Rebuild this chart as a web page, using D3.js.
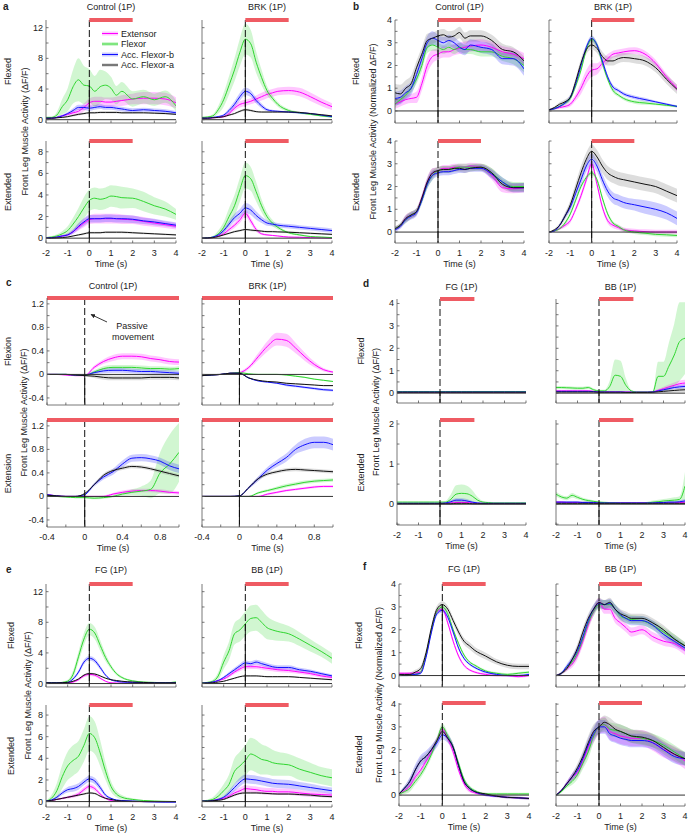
<!DOCTYPE html>
<html>
<head>
<meta charset="utf-8">
<script src="https://cdn.jsdelivr.net/npm/d3@7"></script>
<style>
  body { margin: 0; background: #fff; }
  text { font-family: "Liberation Sans", Arial, sans-serif; font-size: 9px; fill: #222; }
</style>
</head>
<body>
<svg id="chart"></svg>
<script>
// ---- data ----
// series order in every block: Extensor, Flexor, Acc. Flexor-b, Acc. Flexor-a
var seriesNames = ["Extensor", "Flexor", "Acc. Flexor-b", "Acc. Flexor-a"];
var seriesColors = ["#ff00ff", "#2fd62f", "#1010ff", "#111111"];

var tMain = [-2,-1.75,-1.5,-1.25,-1,-0.75,-0.5,-0.25,0,0.25,0.5,0.75,1,1.25,1.5,2,2.5,3,3.5,4];
var tFine = [-2,-1.75,-1.5,-1.25,-1,-0.75,-0.5,-0.25,0,0.25,0.5,0.75,1,1.25,1.5,1.75,2,2.25,2.5,2.75,3,3.25,3.5,3.75,4];
var tPassive = [-0.4,-0.3,-0.2,-0.1,0,0.1,0.2,0.3,0.4,0.5,0.6,0.7,0.8,0.9,1.0];

var xTicksTime = [-2,-1,0,1,2,3,4];
var xTicksPassive = [-0.4,0,0.4,0.8];

// a: raw dF/F
var aCtrlFlexed = [
  [0.2,0.2,0.3,0.5,0.7,0.9,1.1,1.6,2.2,2.4,2.4,2.3,2.3,2.4,2.5,2.7,2.8,2.8,2.7,2.2],
  [0.3,0.3,0.6,1.7,2.6,4.3,5.2,4.5,4.4,3.7,4.3,4.5,4.1,3.2,3.7,2.7,3.0,2.6,3.0,1.8],
  [0.2,0.2,0.3,0.5,0.8,1.2,1.6,1.6,1.5,1.6,1.7,1.6,1.6,1.5,1.4,1.2,1.3,1.2,1.1,0.9],
  [0.2,0.2,0.25,0.3,0.4,0.55,0.7,0.8,0.9,0.9,0.95,0.95,0.95,0.95,0.9,0.9,0.9,0.85,0.8,0.7]];
var aCtrlFlexedSem = [
  [0.1,0.1,0.1,0.15,0.2,0.3,0.4,0.5,0.6,0.6,0.6,0.6,0.6,0.6,0.7,0.7,0.8,0.8,0.8,0.7],
  [0.1,0.1,0.4,1.0,1.5,2.2,2.8,2.5,2.2,2.0,2.2,1.8,1.5,1.2,1.2,1.0,0.9,0.8,0.8,0.7],
  [0.05,0.05,0.1,0.15,0.2,0.3,0.35,0.35,0.35,0.3,0.3,0.3,0.3,0.3,0.3,0.3,0.25,0.25,0.25,0.25],
  [0.05,0.05,0.05,0.08,0.1,0.12,0.15,0.15,0.15,0.15,0.15,0.15,0.15,0.15,0.15,0.15,0.12,0.12,0.12,0.1]];
var aBrkFlexed = [
  [0.2,0.2,0.25,0.3,0.4,0.8,1.5,2.0,2.2,2.4,2.7,3.0,3.3,3.5,3.7,3.8,3.6,3.0,2.3,1.7],
  [0.3,0.35,0.5,1.3,2.6,4.5,6.5,8.8,10.5,9.9,7.5,5.5,3.8,2.8,2.0,1.2,0.9,0.7,0.5,0.35],
  [0.2,0.2,0.3,0.4,0.6,1.2,2.0,3.0,3.7,3.4,2.5,1.8,1.3,1.15,1.1,1.0,0.9,0.8,0.6,0.4],
  [0.2,0.2,0.25,0.3,0.4,0.6,0.8,1.1,1.3,1.2,1.05,1.0,1.0,1.0,1.0,1.0,0.95,0.8,0.65,0.5]];
var aBrkFlexedSem = [
  [0.05,0.05,0.1,0.1,0.15,0.25,0.35,0.4,0.4,0.4,0.45,0.5,0.5,0.5,0.5,0.5,0.55,0.55,0.5,0.45],
  [0.1,0.1,0.2,0.5,0.9,1.2,1.5,1.8,2.0,1.8,1.4,1.0,0.6,0.4,0.3,0.2,0.15,0.1,0.1,0.1],
  [0.05,0.05,0.05,0.1,0.15,0.3,0.4,0.5,0.5,0.45,0.4,0.3,0.2,0.15,0.1,0.1,0.1,0.1,0.08,0.08],
  [0.05,0.05,0.05,0.05,0.08,0.1,0.12,0.15,0.15,0.15,0.12,0.1,0.1,0.1,0.1,0.1,0.1,0.08,0.08,0.08]];
var aCtrlExt = [
  [0.05,0.05,0.1,0.2,0.3,0.6,1.0,1.4,1.7,1.8,1.8,1.8,1.8,1.8,1.75,1.7,1.55,1.4,1.25,1.1],
  [0.05,0.1,0.2,0.4,0.7,1.3,2.0,2.8,3.5,3.7,3.6,3.7,3.9,3.85,3.75,3.7,3.4,3.0,2.7,2.2],
  [0.05,0.05,0.1,0.2,0.3,0.6,1.1,1.5,1.8,1.8,1.8,1.85,1.85,1.8,1.8,1.75,1.6,1.5,1.35,1.2],
  [0,0,0.02,0.05,0.1,0.2,0.3,0.4,0.5,0.5,0.5,0.55,0.55,0.55,0.55,0.5,0.45,0.4,0.35,0.3]];
var aCtrlExtSem = [
  [0.02,0.03,0.05,0.08,0.12,0.2,0.3,0.4,0.4,0.45,0.45,0.45,0.45,0.45,0.45,0.4,0.4,0.35,0.3,0.3],
  [0.05,0.08,0.15,0.25,0.4,0.6,0.8,1.0,1.0,1.0,1.0,1.0,1.0,1.0,1.0,0.9,0.9,0.8,0.7,0.5],
  [0.02,0.03,0.05,0.08,0.12,0.2,0.3,0.35,0.35,0.35,0.35,0.35,0.35,0.35,0.35,0.35,0.3,0.3,0.25,0.25],
  [0.02,0.02,0.03,0.03,0.05,0.05,0.08,0.1,0.1,0.1,0.1,0.1,0.1,0.1,0.1,0.1,0.08,0.08,0.08,0.08]];
var aBrkExt = [
  [0,0,0.05,0.2,0.4,0.8,1.2,1.7,2.3,1.6,0.8,0.4,0.3,0.25,0.2,0.1,0.08,0.05,0.03,0],
  [0,0.02,0.1,0.4,1.0,2.0,3.0,4.5,5.8,5.5,4.3,3.0,2.0,1.4,1.0,0.5,0.3,0.15,0.1,0.05],
  [0,0.02,0.1,0.3,0.7,1.3,1.9,2.3,2.8,2.6,2.1,1.7,1.4,1.3,1.2,1.1,1.0,0.9,0.8,0.7],
  [0,0.02,0.05,0.15,0.3,0.45,0.6,0.7,0.8,0.75,0.7,0.65,0.6,0.6,0.58,0.55,0.5,0.45,0.4,0.35]];
var aBrkExtSem = [
  [0.02,0.02,0.05,0.1,0.15,0.2,0.25,0.3,0.35,0.3,0.2,0.1,0.08,0.06,0.05,0.05,0.04,0.04,0.03,0.03],
  [0.02,0.05,0.1,0.3,0.5,0.8,1.0,1.1,1.2,1.1,0.9,0.6,0.4,0.3,0.2,0.1,0.08,0.05,0.05,0.05],
  [0.02,0.02,0.05,0.1,0.2,0.3,0.35,0.4,0.45,0.45,0.4,0.3,0.25,0.2,0.2,0.2,0.2,0.2,0.2,0.2],
  [0.02,0.02,0.03,0.05,0.06,0.08,0.1,0.1,0.1,0.1,0.1,0.1,0.08,0.08,0.08,0.08,0.08,0.08,0.08,0.08]];

// b: normalized dF/F
var bCtrlFlexed = [
  [0.3,0.4,0.5,0.55,0.6,1.2,2.0,2.4,2.5,2.6,2.6,2.7,2.75,2.8,2.85,2.9,2.8,2.6,2.5,2.3],
  [0.3,0.5,0.7,1.0,1.4,2.0,2.8,2.9,2.8,2.7,2.8,2.7,2.8,2.7,2.7,2.6,2.6,2.4,2.3,2.0],
  [0.55,0.6,0.8,1.0,1.6,2.3,3.0,3.2,3.1,3.0,3.1,3.0,2.8,2.7,2.9,2.8,2.7,2.3,2.3,1.85],
  [0.8,0.75,1.0,1.2,1.9,2.5,3.1,3.2,3.3,3.35,3.25,3.3,3.45,3.2,3.3,3.3,3.1,2.7,2.6,2.2]];
var bCtrlFlexedSem = [
  [0.2,0.2,0.2,0.2,0.25,0.3,0.35,0.3,0.25,0.25,0.25,0.25,0.25,0.25,0.25,0.25,0.25,0.25,0.25,0.25],
  [0.15,0.15,0.15,0.2,0.2,0.25,0.25,0.25,0.2,0.2,0.2,0.2,0.2,0.2,0.2,0.2,0.2,0.2,0.25,0.3],
  [0.3,0.3,0.3,0.3,0.3,0.3,0.3,0.3,0.25,0.25,0.25,0.25,0.25,0.25,0.25,0.25,0.25,0.25,0.3,0.3],
  [0.4,0.4,0.35,0.35,0.3,0.3,0.3,0.25,0.25,0.25,0.25,0.25,0.25,0.25,0.25,0.25,0.25,0.25,0.2,0.2]];
var bBrkFlexed = [
  [0.05,0.1,0.15,0.2,0.3,0.6,1.0,1.5,1.8,1.85,2.1,2.3,2.5,2.55,2.6,2.65,2.5,2.1,1.5,1.0],
  [0.05,0.1,0.2,0.35,0.55,1.1,1.8,2.7,3.15,2.9,2.1,1.4,0.9,0.7,0.55,0.4,0.35,0.3,0.25,0.2],
  [0.05,0.1,0.2,0.35,0.6,1.2,2.0,2.8,3.2,2.9,2.2,1.5,1.05,0.9,0.75,0.6,0.5,0.4,0.3,0.2],
  [0.05,0.15,0.3,0.4,0.6,1.3,2.1,2.7,2.9,2.75,2.4,2.2,2.2,2.3,2.35,2.3,2.2,1.9,1.4,0.95]];
var bBrkFlexedSem = [
  [0.03,0.05,0.05,0.08,0.1,0.15,0.25,0.3,0.3,0.25,0.2,0.2,0.15,0.15,0.15,0.15,0.15,0.15,0.15,0.15],
  [0.03,0.05,0.05,0.08,0.1,0.1,0.12,0.12,0.12,0.12,0.12,0.1,0.1,0.08,0.08,0.08,0.08,0.05,0.05,0.05],
  [0.03,0.05,0.05,0.08,0.1,0.1,0.12,0.12,0.12,0.12,0.12,0.1,0.1,0.08,0.08,0.08,0.08,0.05,0.05,0.05],
  [0.03,0.05,0.08,0.1,0.12,0.15,0.2,0.2,0.2,0.2,0.2,0.2,0.2,0.2,0.2,0.2,0.2,0.2,0.2,0.2]];
var bCtrlExt = [
  [0.15,0.3,0.6,0.75,0.9,1.5,2.2,2.6,2.7,2.8,2.8,2.85,2.85,2.85,2.9,2.85,2.5,1.95,1.9,1.95],
  [0.15,0.3,0.55,0.75,0.9,1.4,2.1,2.5,2.7,2.75,2.75,2.8,2.85,2.85,2.85,2.85,2.6,2.2,2.0,2.0],
  [0.1,0.25,0.55,0.7,0.85,1.4,2.1,2.5,2.6,2.65,2.65,2.7,2.75,2.75,2.8,2.8,2.55,2.2,1.95,1.95],
  [0.15,0.3,0.6,0.75,0.9,1.5,2.2,2.6,2.7,2.75,2.75,2.8,2.8,2.75,2.8,2.85,2.6,2.1,1.95,1.95]];
var bCtrlExtSem = [
  [0.1,0.1,0.15,0.15,0.15,0.15,0.2,0.2,0.15,0.15,0.15,0.15,0.15,0.15,0.15,0.15,0.2,0.2,0.2,0.2],
  [0.1,0.1,0.15,0.15,0.15,0.15,0.2,0.2,0.15,0.15,0.15,0.15,0.15,0.15,0.15,0.15,0.2,0.2,0.2,0.2],
  [0.1,0.1,0.15,0.15,0.15,0.15,0.2,0.2,0.15,0.15,0.15,0.15,0.15,0.15,0.15,0.15,0.2,0.2,0.2,0.2],
  [0.1,0.1,0.15,0.15,0.15,0.15,0.2,0.2,0.15,0.15,0.15,0.15,0.15,0.15,0.15,0.15,0.2,0.2,0.2,0.2]];
var bBrkExt = [
  [0,0.05,0.15,0.3,0.5,1.0,1.6,2.3,3.0,2.1,1.1,0.5,0.3,0.2,0.1,0.05,0.02,0,0,0],
  [0,0.05,0.15,0.4,0.8,1.4,2.0,2.4,2.6,2.3,1.5,0.8,0.4,0.25,0.1,0,-0.05,-0.1,-0.12,-0.15],
  [0,0.05,0.3,0.7,1.1,1.7,2.3,2.9,3.2,2.9,2.3,1.8,1.5,1.4,1.3,1.2,1.1,1.0,0.85,0.6],
  [0,0.1,0.3,0.7,1.2,1.9,2.6,3.2,3.55,3.3,2.9,2.6,2.45,2.35,2.3,2.2,2.1,2.0,1.8,1.6]];
var bBrkExtSem = [
  [0.02,0.03,0.05,0.1,0.1,0.1,0.15,0.15,0.15,0.15,0.12,0.12,0.12,0.1,0.1,0.1,0.1,0.1,0.1,0.1],
  [0.02,0.03,0.05,0.08,0.1,0.1,0.1,0.1,0.1,0.1,0.1,0.1,0.08,0.08,0.08,0.08,0.08,0.08,0.08,0.08],
  [0.02,0.03,0.05,0.1,0.15,0.2,0.25,0.25,0.25,0.25,0.25,0.25,0.25,0.25,0.25,0.25,0.3,0.3,0.3,0.3],
  [0.02,0.05,0.1,0.15,0.2,0.25,0.3,0.3,0.3,0.3,0.3,0.3,0.3,0.3,0.3,0.3,0.3,0.3,0.3,0.3]];

// c: passive movement, dF/F
var cCtrlFlexion = [
  [0,0,-0.01,-0.02,-0.02,0.12,0.22,0.28,0.31,0.31,0.3,0.27,0.25,0.22,0.21],
  [0,0,0,-0.01,-0.02,0.04,0.1,0.12,0.12,0.12,0.11,0.1,0.1,0.09,0.1],
  [0,0,0,-0.01,-0.01,0.03,0.06,0.07,0.07,0.06,0.05,0.05,0.04,0.03,0.02],
  [0,0,0,-0.01,-0.02,-0.03,-0.05,-0.06,-0.06,-0.06,-0.06,-0.05,-0.05,-0.05,-0.06]];
var cCtrlFlexionSem = [
  [0.01,0.01,0.01,0.01,0.01,0.03,0.04,0.05,0.05,0.05,0.05,0.05,0.05,0.05,0.05],
  [0.01,0.01,0.01,0.01,0.01,0.03,0.04,0.04,0.04,0.04,0.04,0.04,0.04,0.04,0.04],
  [0.01,0.01,0.01,0.01,0.01,0.03,0.04,0.04,0.04,0.04,0.04,0.04,0.04,0.04,0.04],
  [0.01,0.01,0.01,0.01,0.01,0.03,0.04,0.04,0.04,0.04,0.04,0.04,0.04,0.04,0.04]];
var cBrkFlexion = [
  [-0.02,-0.01,0,0.02,0.03,0.12,0.3,0.48,0.6,0.58,0.45,0.3,0.17,0.08,0.04],
  [-0.02,-0.01,0,0.02,0.03,0.01,0,0,0,-0.01,-0.03,-0.05,-0.08,-0.1,-0.12],
  [-0.02,-0.01,0,0.02,0.02,-0.06,-0.11,-0.13,-0.15,-0.18,-0.2,-0.22,-0.24,-0.26,-0.27],
  [-0.02,-0.01,0,0.02,0.02,-0.06,-0.1,-0.12,-0.13,-0.15,-0.16,-0.17,-0.18,-0.19,-0.19]];
var cBrkFlexionSem = [
  [0.01,0.01,0.01,0.01,0.02,0.03,0.06,0.09,0.11,0.11,0.09,0.07,0.05,0.03,0.02],
  [0.01,0.01,0.01,0.01,0.01,0.01,0.01,0.01,0.01,0.01,0.01,0.01,0.01,0.01,0.01],
  [0.01,0.01,0.01,0.01,0.01,0.01,0.01,0.01,0.01,0.02,0.02,0.02,0.02,0.02,0.02],
  [0.01,0.01,0.01,0.01,0.01,0.01,0.01,0.01,0.01,0.01,0.01,0.01,0.01,0.01,0.01]];
var cCtrlExtension = [
  [0.03,0.01,0,0,0,0,0,0.04,0.07,0.09,0.1,0.1,0.09,0.07,0.06],
  [0.02,0,-0.01,-0.02,-0.02,-0.03,-0.02,0,0.04,0.07,0.09,0.12,0.4,0.55,0.75],
  [0.03,0.01,0,0,0.03,0.2,0.33,0.42,0.55,0.65,0.66,0.64,0.6,0.52,0.47],
  [0.02,0.01,0,0,0.05,0.2,0.36,0.44,0.48,0.51,0.5,0.47,0.43,0.39,0.35]];
var cCtrlExtensionSem = [
  [0.01,0.01,0.01,0.01,0.01,0.01,0.02,0.02,0.03,0.03,0.03,0.03,0.03,0.03,0.03],
  [0.01,0.01,0.01,0.01,0.01,0.02,0.02,0.02,0.03,0.05,0.08,0.15,0.35,0.5,0.5],
  [0.01,0.01,0.01,0.01,0.01,0.03,0.04,0.05,0.06,0.06,0.06,0.06,0.06,0.07,0.07],
  [0.01,0.01,0.01,0.01,0.01,0.02,0.03,0.03,0.03,0.03,0.03,0.03,0.03,0.03,0.03]];
var cBrkExtension = [
  [0,0,0,0,0,0,0,0.04,0.07,0.1,0.12,0.14,0.16,0.17,0.17],
  [0,0,0,0,0,0,0.06,0.1,0.14,0.18,0.21,0.24,0.26,0.27,0.28],
  [0,0,0,0,0.01,0.15,0.3,0.45,0.56,0.66,0.8,0.88,0.92,0.92,0.88],
  [0,0,0,0,0.01,0.15,0.3,0.38,0.42,0.45,0.46,0.45,0.44,0.43,0.42]];
var cBrkExtensionSem = [
  [0.01,0.01,0.01,0.01,0.01,0.01,0.01,0.02,0.02,0.02,0.02,0.02,0.02,0.02,0.02],
  [0.01,0.01,0.01,0.01,0.01,0.01,0.02,0.02,0.03,0.03,0.03,0.03,0.03,0.03,0.03],
  [0.01,0.01,0.01,0.01,0.01,0.02,0.04,0.05,0.06,0.07,0.08,0.1,0.1,0.1,0.1],
  [0.01,0.01,0.01,0.01,0.01,0.02,0.03,0.03,0.03,0.03,0.03,0.03,0.03,0.03,0.03]];

// d: FG / BB (1P), dF/F
var dFgFlexed = [
  [0.04,0.04,0.04,0.04,0.04,0.04,0.04,0.04,0.04,0.04,0.04,0.04,0.04,0.04,0.04,0.04,0.04,0.04,0.04,0.04],
  [0.07,0.07,0.07,0.07,0.07,0.07,0.07,0.07,0.07,0.07,0.07,0.07,0.07,0.07,0.07,0.07,0.07,0.07,0.07,0.07],
  [0.05,0.05,0.05,0.05,0.05,0.05,0.05,0.05,0.05,0.05,0.05,0.05,0.05,0.05,0.05,0.05,0.05,0.05,0.05,0.05],
  [0.04,0.04,0.04,0.04,0.04,0.04,0.04,0.04,0.04,0.04,0.04,0.04,0.04,0.04,0.04,0.04,0.04,0.04,0.04,0.04]];
var dFgFlexedSem = [
  [0.02,0.02,0.02,0.02,0.02,0.02,0.02,0.02,0.02,0.02,0.02,0.02,0.02,0.02,0.02,0.02,0.02,0.02,0.02,0.02],
  [0.02,0.02,0.02,0.02,0.02,0.02,0.02,0.02,0.02,0.02,0.02,0.02,0.02,0.02,0.02,0.02,0.02,0.02,0.02,0.02],
  [0.02,0.02,0.02,0.02,0.02,0.02,0.02,0.02,0.02,0.02,0.02,0.02,0.02,0.02,0.02,0.02,0.02,0.02,0.02,0.02],
  [0.02,0.02,0.02,0.02,0.02,0.02,0.02,0.02,0.02,0.02,0.02,0.02,0.02,0.02,0.02,0.02,0.02,0.02,0.02,0.02]];
var dBbFlexed = [
  [0.1,0.1,0.1,0.1,0.1,0.1,0.1,0.08,0.06,0.05,0.05,0.05,0.05,0.05,0.05,0.05,0.05,0.05,0.06,0.12,0.2,0.28,0.35,0.42,0.45],
  [0.25,0.25,0.24,0.23,0.22,0.22,0.25,0.15,0.1,0.1,0.3,0.8,0.75,0.35,0.1,0.05,0.05,0.05,0.05,0.75,0.75,1.2,1.7,2.3,2.45],
  [0.08,0.08,0.08,0.08,0.08,0.08,0.08,0.07,0.05,0.05,0.05,0.05,0.05,0.04,0.04,0.04,0.04,0.04,0.05,0.1,0.15,0.2,0.25,0.28,0.3],
  [0.05,0.05,0.05,0.05,0.05,0.05,0.05,0.05,0.04,0.04,0.04,0.04,0.04,0.03,0.03,0.03,0.03,0.03,0.04,0.06,0.08,0.1,0.12,0.14,0.15]];
var dBbFlexedSem = [
  [0.05,0.05,0.05,0.05,0.05,0.05,0.05,0.04,0.03,0.03,0.03,0.03,0.03,0.03,0.03,0.03,0.03,0.03,0.04,0.06,0.08,0.1,0.12,0.14,0.15],
  [0.07,0.07,0.07,0.07,0.07,0.07,0.07,0.06,0.05,0.05,0.25,0.7,0.7,0.3,0.05,0.03,0.03,0.03,0.03,0.65,0.65,1.05,1.4,1.75,1.6],
  [0.03,0.03,0.03,0.03,0.03,0.03,0.03,0.03,0.02,0.02,0.02,0.02,0.02,0.02,0.02,0.02,0.02,0.02,0.03,0.05,0.06,0.07,0.08,0.09,0.1],
  [0.03,0.03,0.03,0.03,0.03,0.03,0.03,0.03,0.02,0.02,0.02,0.02,0.02,0.02,0.02,0.02,0.02,0.02,0.03,0.05,0.06,0.07,0.08,0.09,0.1]];
var dFgExt = [
  [0.02,0.02,0.02,0.02,0.02,0.02,0.02,0.02,0.02,0.02,0.03,0.04,0.04,0.04,0.03,0.02,0.02,0.02,0.02,0.02,0.02,0.02,0.02,0.02,0.02],
  [0.05,0.05,0.05,0.05,0.05,0.05,0.05,0.05,0.05,0.05,0.12,0.25,0.27,0.26,0.2,0.1,0.05,0.04,0.03,0.03,0.03,0.03,0.03,0.03,0.03],
  [0.02,0.02,0.02,0.02,0.02,0.02,0.02,0.02,0.02,0.03,0.06,0.1,0.1,0.08,0.05,0.03,0.02,0.02,0.02,0.02,0.02,0.02,0.02,0.02,0.02],
  [0.01,0.01,0.01,0.01,0.01,0.01,0.01,0.01,0.01,0.01,0.01,0.02,0.02,0.02,0.01,0.01,0.01,0.01,0.01,0.01,0.01,0.01,0.01,0.01,0.01]];
var dFgExtSem = [
  [0.02,0.02,0.02,0.02,0.02,0.02,0.02,0.02,0.02,0.02,0.03,0.03,0.03,0.03,0.02,0.02,0.02,0.02,0.02,0.02,0.02,0.02,0.02,0.02,0.02],
  [0.02,0.02,0.02,0.02,0.02,0.02,0.02,0.02,0.02,0.03,0.12,0.22,0.22,0.2,0.15,0.08,0.03,0.02,0.02,0.02,0.02,0.02,0.02,0.02,0.02],
  [0.02,0.02,0.02,0.02,0.02,0.02,0.02,0.02,0.02,0.02,0.04,0.05,0.05,0.05,0.03,0.02,0.02,0.02,0.02,0.02,0.02,0.02,0.02,0.02,0.02],
  [0.02,0.02,0.02,0.02,0.02,0.02,0.02,0.02,0.02,0.02,0.03,0.04,0.04,0.03,0.02,0.02,0.02,0.02,0.02,0.02,0.02,0.02,0.02,0.02,0.02]];
var dBbExt = [
  [0.05,0.05,0.04,0.04,0.04,0.04,0.03,0.03,0.03,0.03,0.03,0.03,0.03,0.03,0.03,0.03,0.03,0.03,0.03,0.03,0.03,0.03,0.03,0.04,0.05],
  [0.25,0.18,0.15,0.22,0.17,0.12,0.09,0.07,0.05,0.04,0.03,0.03,0.02,0.02,0.02,0.02,0.02,0.03,0.05,0.06,0.08,0.09,0.1,0.12,0.45],
  [0.05,0.05,0.05,0.05,0.05,0.04,0.04,0.04,0.03,0.03,0.03,0.03,0.03,0.03,0.03,0.03,0.03,0.03,0.03,0.04,0.04,0.05,0.05,0.06,0.08],
  [0.02,0.02,0.02,0.02,0.02,0.02,0.02,0.02,0.02,0.02,0.02,0.02,0.02,0.02,0.02,0.02,0.02,0.02,0.02,0.02,0.02,0.02,0.02,0.02,0.02]];
var dBbExtSem = [
  [0.02,0.02,0.02,0.02,0.02,0.02,0.02,0.02,0.02,0.02,0.02,0.02,0.02,0.02,0.02,0.02,0.02,0.02,0.02,0.02,0.02,0.02,0.02,0.03,0.04],
  [0.06,0.05,0.05,0.06,0.05,0.04,0.04,0.03,0.03,0.03,0.02,0.02,0.02,0.02,0.02,0.02,0.02,0.03,0.04,0.05,0.05,0.06,0.07,0.08,0.35],
  [0.03,0.03,0.03,0.03,0.03,0.03,0.03,0.03,0.02,0.02,0.02,0.02,0.02,0.02,0.02,0.02,0.02,0.02,0.02,0.03,0.03,0.03,0.03,0.04,0.05],
  [0.04,0.04,0.04,0.04,0.04,0.04,0.04,0.04,0.03,0.03,0.03,0.03,0.03,0.03,0.03,0.03,0.03,0.03,0.03,0.03,0.03,0.03,0.03,0.03,0.03]];

// e: FG / BB (1P), dF/F
var eFgFlexed = [
  [0.05,0.05,0.05,0.08,0.1,0.2,0.5,1.0,1.2,1.1,0.7,0.3,0.1,0.07,0.05,0.05,0.05,0.05,0.05,0.05],
  [0.1,0.1,0.1,0.15,0.3,1.2,3.5,5.8,7.1,6.6,5.0,3.4,2.2,1.3,0.8,0.35,0.2,0.15,0.1,0.2],
  [0.1,0.1,0.1,0.12,0.15,0.6,1.5,2.8,3.3,3.0,2.1,1.1,0.5,0.3,0.2,0.15,0.12,0.1,0.1,0.1],
  [0.1,0.1,0.1,0.12,0.15,0.3,0.6,1.1,1.3,1.25,1.0,0.7,0.5,0.4,0.3,0.2,0.15,0.1,0.1,0.1]];
var eFgFlexedSem = [
  [0.03,0.03,0.03,0.03,0.05,0.08,0.12,0.18,0.2,0.2,0.15,0.08,0.05,0.03,0.03,0.03,0.03,0.03,0.03,0.03],
  [0.05,0.05,0.05,0.1,0.2,0.5,0.7,0.8,0.8,0.8,0.7,0.5,0.3,0.2,0.15,0.1,0.05,0.05,0.05,0.1],
  [0.03,0.03,0.03,0.05,0.08,0.15,0.25,0.3,0.3,0.3,0.25,0.15,0.08,0.05,0.05,0.03,0.03,0.03,0.03,0.03],
  [0.03,0.03,0.03,0.03,0.05,0.06,0.08,0.1,0.1,0.1,0.1,0.08,0.06,0.05,0.05,0.04,0.03,0.03,0.03,0.03]];
var eBbFlexed = [
  [0.05,0.1,0.2,0.4,0.6,1.0,1.5,1.9,2.2,2.2,2.2,2.1,2.0,1.9,1.8,1.7,1.5,1.3,1.0,0.8],
  [0.1,0.15,0.3,1.0,2.8,4.3,6.5,7.0,7.8,8.5,8.6,8.0,7.3,7.0,6.8,6.5,5.8,5.0,4.2,3.3],
  [0.05,0.1,0.2,0.4,0.8,1.3,1.8,2.3,2.7,2.6,2.8,2.6,2.4,2.2,2.1,2.1,1.8,1.6,1.3,1.0],
  [0.05,0.08,0.1,0.2,0.3,0.5,0.7,0.9,1.0,1.0,1.0,0.95,0.9,0.9,0.9,0.9,0.8,0.7,0.6,0.5]];
var eBbFlexedSem = [
  [0.03,0.05,0.08,0.1,0.15,0.2,0.25,0.3,0.3,0.3,0.3,0.3,0.3,0.3,0.3,0.3,0.25,0.25,0.2,0.2],
  [0.05,0.1,0.2,0.5,0.9,1.2,1.4,1.5,1.6,1.7,1.7,1.6,1.5,1.3,1.2,1.0,0.9,0.8,0.7,0.7],
  [0.03,0.05,0.08,0.1,0.15,0.2,0.25,0.3,0.3,0.3,0.3,0.3,0.3,0.3,0.3,0.3,0.25,0.25,0.2,0.2],
  [0.03,0.03,0.03,0.05,0.05,0.08,0.1,0.1,0.1,0.1,0.1,0.1,0.1,0.1,0.1,0.1,0.08,0.08,0.08,0.08]];
var eFgExt = [
  [0.05,0.1,0.2,0.3,0.4,0.5,0.7,1.1,1.4,1.2,0.7,0.3,0.1,0.05,0.02,0,0,0,0,0],
  [0.05,0.3,1.0,2.3,3.3,3.8,4.2,5.2,6.3,5.9,4.5,2.8,1.4,0.7,0.4,0.2,0.1,0.05,0.02,0],
  [0.05,0.15,0.4,0.8,1.1,1.2,1.4,1.8,2.1,1.9,1.3,0.6,0.3,0.15,0.1,0.05,0,-0.03,-0.05,-0.05],
  [0.05,0.1,0.2,0.3,0.4,0.5,0.6,0.7,0.8,0.75,0.5,0.3,0.2,0.1,0.05,0.02,0,0,0,0]];
var eFgExtSem = [
  [0.02,0.04,0.06,0.1,0.12,0.15,0.2,0.22,0.22,0.22,0.15,0.08,0.05,0.03,0.02,0.02,0.02,0.02,0.02,0.02],
  [0.05,0.3,0.7,1.1,1.3,1.4,1.4,1.5,1.6,1.5,1.2,0.8,0.5,0.3,0.2,0.1,0.05,0.05,0.05,0.05],
  [0.02,0.08,0.15,0.2,0.25,0.3,0.3,0.3,0.3,0.3,0.25,0.15,0.08,0.05,0.05,0.05,0.05,0.05,0.05,0.05],
  [0.02,0.04,0.05,0.06,0.08,0.1,0.1,0.1,0.1,0.1,0.08,0.06,0.05,0.03,0.02,0.02,0.02,0.02,0.02,0.02]];
var eBbExt = [
  [0.05,0.05,0.1,0.2,0.3,0.5,0.8,1.0,1.2,1.15,1.1,1.0,0.95,0.95,0.9,0.9,0.8,0.7,0.65,0.6],
  [0.05,0.1,0.2,0.5,1.0,1.6,2.8,3.3,3.8,4.4,4.2,3.9,3.8,3.6,3.5,3.4,3.0,2.7,2.4,2.2],
  [0.05,0.05,0.1,0.2,0.4,0.8,1.3,1.8,2.1,2.05,2.0,1.9,1.8,1.7,1.65,1.6,1.45,1.3,1.15,1.0],
  [0.05,0.05,0.08,0.12,0.2,0.4,0.6,0.75,0.8,0.8,0.8,0.78,0.75,0.72,0.7,0.7,0.65,0.6,0.5,0.45]];
var eBbExtSem = [
  [0.02,0.03,0.05,0.08,0.12,0.18,0.25,0.3,0.3,0.3,0.3,0.3,0.3,0.3,0.3,0.3,0.28,0.25,0.22,0.2],
  [0.05,0.1,0.2,0.4,0.6,0.9,1.2,1.3,1.4,1.5,1.5,1.4,1.3,1.2,1.1,1.0,1.0,0.9,0.8,0.8],
  [0.02,0.03,0.05,0.1,0.15,0.25,0.35,0.4,0.4,0.4,0.4,0.4,0.4,0.4,0.4,0.4,0.35,0.35,0.3,0.3],
  [0.02,0.02,0.03,0.04,0.05,0.08,0.1,0.1,0.1,0.1,0.1,0.1,0.1,0.1,0.1,0.1,0.1,0.1,0.1,0.1]];

// f: FG / BB (1P), normalized dF/F
var fFgFlexed = [
  [0.1,0.1,0.1,0.12,0.15,0.9,2.0,2.8,2.9,2.3,1.5,0.85,0.45,0.25,0.15,0.05,0,0,-0.05,0],
  [0.02,0.02,0.03,0.05,0.15,0.9,2.0,2.8,3.0,2.7,2.0,1.4,0.9,0.6,0.45,0.2,0.1,0.05,0.1,0.15],
  [0.02,0.02,0.03,0.05,0.1,0.8,1.9,2.7,2.85,2.55,1.9,1.2,0.75,0.5,0.35,0.15,0.05,0,0,0.05],
  [0.05,0.05,0.05,0.15,0.3,1.0,2.1,2.9,3.1,2.9,2.4,1.9,1.5,1.3,1.1,0.85,0.6,0.45,0.4,0.4]];
var fFgFlexedSem = [
  [0.05,0.05,0.05,0.05,0.05,0.1,0.1,0.1,0.1,0.1,0.1,0.08,0.06,0.05,0.05,0.05,0.05,0.05,0.05,0.05],
  [0.05,0.05,0.05,0.05,0.05,0.1,0.1,0.1,0.1,0.1,0.1,0.08,0.06,0.05,0.05,0.05,0.05,0.05,0.05,0.05],
  [0.05,0.05,0.05,0.05,0.05,0.1,0.1,0.1,0.1,0.1,0.1,0.08,0.06,0.05,0.05,0.05,0.05,0.05,0.05,0.05],
  [0.05,0.05,0.08,0.1,0.12,0.15,0.15,0.15,0.15,0.15,0.15,0.15,0.15,0.15,0.15,0.15,0.12,0.12,0.12,0.12]];
var fBbFlexed = [
  [0,0.1,0.3,0.5,0.9,1.5,2.2,2.8,3.2,2.9,2.9,2.5,2.3,2.1,1.9,2.0,1.7,1.5,1.4,1.1],
  [0,0.1,0.35,0.6,1.0,1.6,2.3,2.8,3.1,3.1,3.1,2.9,2.6,2.5,2.45,2.4,2.2,1.9,1.6,1.3],
  [0,0.1,0.4,0.7,1.1,1.7,2.4,2.9,3.15,3.1,3.15,2.9,2.65,2.5,2.4,2.4,2.2,1.8,1.5,1.2],
  [0,0.1,0.3,0.7,1.2,1.9,2.5,2.9,3.2,3.1,3.2,2.9,2.7,2.6,2.5,2.5,2.3,2.0,1.6,1.3]];
var fBbFlexedSem = [
  [0.03,0.05,0.1,0.15,0.2,0.2,0.2,0.2,0.2,0.2,0.2,0.2,0.2,0.2,0.2,0.2,0.2,0.2,0.2,0.2],
  [0.03,0.05,0.1,0.15,0.2,0.2,0.2,0.2,0.2,0.2,0.2,0.2,0.2,0.2,0.2,0.2,0.2,0.2,0.2,0.15],
  [0.03,0.05,0.1,0.15,0.2,0.2,0.2,0.2,0.2,0.2,0.2,0.2,0.2,0.2,0.2,0.2,0.2,0.2,0.2,0.15],
  [0.03,0.05,0.1,0.15,0.2,0.2,0.2,0.2,0.2,0.2,0.2,0.2,0.2,0.2,0.2,0.2,0.2,0.2,0.2,0.15]];
var fFgExt = [
  [0.05,0.2,0.4,0.8,1.1,1.5,1.9,2.4,2.9,2.5,1.9,1.1,0.5,0.2,0.1,0,-0.05,-0.1,-0.12,-0.15],
  [0.05,0.15,0.3,0.6,0.9,1.3,1.8,2.4,3.0,2.6,2.1,1.4,0.7,0.35,0.2,0.05,0.05,0.05,0.05,0.05],
  [0.05,0.3,0.6,1.1,1.5,1.7,2.0,2.3,2.65,2.5,2.1,1.3,0.6,0.3,0.15,0,-0.05,-0.1,-0.12,-0.15],
  [0.05,0.3,0.6,1.1,1.5,1.7,2.0,2.4,2.8,2.5,2.1,1.3,0.6,0.3,0.15,0.05,-0.05,-0.1,-0.12,-0.15]];
var fFgExtSem = [
  [0.05,0.1,0.15,0.15,0.15,0.15,0.15,0.15,0.15,0.15,0.15,0.12,0.1,0.08,0.05,0.05,0.05,0.05,0.05,0.05],
  [0.05,0.1,0.15,0.15,0.15,0.15,0.15,0.15,0.15,0.15,0.15,0.12,0.1,0.08,0.05,0.05,0.05,0.05,0.05,0.05],
  [0.05,0.1,0.2,0.25,0.25,0.25,0.2,0.2,0.2,0.2,0.15,0.12,0.1,0.08,0.05,0.05,0.05,0.05,0.05,0.05],
  [0.05,0.1,0.15,0.15,0.15,0.15,0.15,0.15,0.15,0.15,0.15,0.12,0.1,0.08,0.05,0.05,0.05,0.05,0.05,0.05]];
var fBbExt = [
  [0,0.2,0.5,0.8,1.0,1.5,2.1,2.6,3.0,3.1,2.8,2.7,2.6,2.55,2.5,2.5,2.3,2.0,1.8,1.5],
  [0,0.15,0.4,0.6,0.9,1.4,1.9,2.6,3.0,3.1,2.9,2.85,2.8,2.7,2.6,2.5,2.4,2.2,1.9,1.6],
  [0,0.2,0.5,0.8,1.1,1.6,2.2,2.7,3.0,3.0,2.7,2.6,2.5,2.45,2.4,2.4,2.3,2.0,1.7,1.6],
  [0,0.2,0.5,0.8,1.2,1.7,2.3,2.8,3.0,3.2,3.1,2.9,2.8,2.7,2.6,2.55,2.4,2.1,1.8,1.6]];
var fBbExtSem = [
  [0.03,0.05,0.1,0.15,0.2,0.25,0.3,0.3,0.35,0.35,0.35,0.35,0.35,0.35,0.35,0.35,0.35,0.35,0.35,0.35],
  [0.03,0.05,0.1,0.15,0.2,0.25,0.3,0.3,0.3,0.3,0.3,0.3,0.3,0.3,0.3,0.3,0.3,0.3,0.3,0.3],
  [0.03,0.05,0.1,0.15,0.2,0.25,0.3,0.3,0.3,0.3,0.3,0.3,0.3,0.3,0.3,0.3,0.3,0.3,0.3,0.3],
  [0.03,0.05,0.1,0.15,0.2,0.25,0.3,0.3,0.3,0.3,0.3,0.3,0.3,0.3,0.3,0.3,0.3,0.3,0.3,0.3]];

// ---- drawing ----
var width = 689, height = 834;
var svg = d3.select("#chart").attr("width", width).attr("height", height);
var clipId = 0;

// one small axes: mean traces with shaded error bands
function subplot(p) {
  var x = d3.scaleLinear().domain(p.xDom).range(p.xr);
  var y = d3.scaleLinear().domain(p.yDom).range([p.yr[1], p.yr[0]]);
  var g = svg.append("g");
  var x0 = p.xr[0], x1 = p.xr[1], yTop = p.yr[0], yBot = p.yr[1];

  var cid = "clip" + (clipId++);
  svg.append("clipPath").attr("id", cid).append("rect")
    .attr("x", x0).attr("y", yTop).attr("width", x1 - x0).attr("height", yBot - yTop);
  var plot = g.append("g").attr("clip-path", "url(#" + cid + ")");

  var area = d3.area()
    .x(function(d){ return x(d.t); })
    .y0(function(d){ return y(d.v - d.e); })
    .y1(function(d){ return y(d.v + d.e); })
    .curve(d3.curveMonotoneX);
  var line = d3.line()
    .x(function(d){ return x(d.t); })
    .y(function(d){ return y(d.v); })
    .curve(d3.curveMonotoneX);

  var rows = p.means.map(function(m, k){
    return m.map(function(v, i){ return {t: p.t[i], v: v, e: p.sem[k][i]}; });
  });

  // zero line
  g.append("line").attr("x1", x0).attr("x2", x1).attr("y1", y(0)).attr("y2", y(0))
    .attr("stroke", "#333").attr("stroke-width", 1);

  // bands
  rows.forEach(function(r, k){
    plot.append("path").attr("d", area(r))
      .attr("fill", k === 3 ? "#777" : seriesColors[k])
      .attr("fill-opacity", k === 3 ? 0.25 : 0.22);
  });

  // stimulus onset
  var peak0 = d3.max(rows, function(r){ return d3.max(r.filter(function(d){ return d.t === 0; }), function(d){ return d.v; }); });
  g.append("line").attr("x1", x(0)).attr("x2", x(0)).attr("y1", yTop).attr("y2", yBot)
    .attr("stroke", "#111").attr("stroke-width", 1).attr("stroke-dasharray", "7,3");
  g.append("line").attr("x1", x(0)).attr("x2", x(0)).attr("y1", y(peak0)).attr("y2", yBot)
    .attr("stroke", "#111").attr("stroke-width", 1);

  // mean traces
  rows.forEach(function(r, k){
    plot.append("path").attr("d", line(r))
      .attr("fill", "none").attr("stroke", seriesColors[k]).attr("stroke-width", 1);
  });

  // stimulation bar
  g.append("line").attr("x1", x(p.stim[0])).attr("x2", x(p.stim[1]))
    .attr("y1", yTop).attr("y2", yTop)
    .attr("stroke", "#ef5b63").attr("stroke-width", 4);

  // axes lines
  g.append("line").attr("x1", x0).attr("x2", x0).attr("y1", yTop).attr("y2", yBot)
    .attr("stroke", "#555").attr("stroke-width", 0.8);
  g.append("line").attr("x1", x0).attr("x2", x1).attr("y1", yBot).attr("y2", yBot)
    .attr("stroke", "#555").attr("stroke-width", 0.8);

  // y ticks (inward)
  p.yTicks.forEach(function(v){
    g.append("line").attr("x1", x0).attr("x2", x0 + 2.5).attr("y1", y(v)).attr("y2", y(v))
      .attr("stroke", "#555").attr("stroke-width", 0.8);
  });
  if (p.yLabels) {
    p.yLabelTicks.forEach(function(v){
      g.append("text").attr("x", x0 - 3).attr("y", y(v) + 3).attr("text-anchor", "end")
        .text(v < 0 ? "-" + d3.format("")(Math.abs(v)) : d3.format("")(v));
    });
  }
  // x ticks (inward) and labels
  p.xTicks.forEach(function(v){
    g.append("line").attr("x1", x(v)).attr("x2", x(v)).attr("y1", yBot).attr("y2", yBot - 2.5)
      .attr("stroke", "#555").attr("stroke-width", 0.8);
  });
  if (p.xLabels) {
    p.xLabelTicks.forEach(function(v){
      g.append("text").attr("x", x(v)).attr("y", yBot + 12.5).attr("text-anchor", "middle")
        .text(v < 0 ? "-" + d3.format("")(Math.abs(v)) : d3.format("")(v));
    });
    g.append("text").attr("x", (x0 + x1) / 2).attr("y", yBot + 23.5).attr("text-anchor", "middle")
      .text("Time (s)");
  }
  return {x: x, y: y};
}

function range(a, b, s) {
  var out = [];
  for (var v = a; v <= b + 1e-9; v += s) out.push(Math.round(v * 100) / 100);
  return out;
}

// panel layouts
var panels = [
  {letter: "a", lp: [3, 10], titles: ["Control (1P)", "BRK (1P)"], titleY: 9.5,
   rowNames: ["Flexed", "Extended"], rowX: 11, ylabX: 28,
   ylab: "Front Leg Muscle Activity (\u0394F/F)",
   xl: [46, 176], xr: [202, 332], ty: [20, 123], by: [141, 243],
   t: tMain, xDom: [-2, 4], xTicks: xTicksTime, xLabelTicks: xTicksTime, stim: [0, 2],
   topDom: [-0.43, 13], topTicks: [0,2,4,6,8,10,12], topLabels: [0,4,8,12],
   botDom: [-0.45, 9], botTicks: [0,1,2,3,4,5,6,7,8], botLabels: [0,2,4,6,8],
   data: [[aCtrlFlexed, aCtrlFlexedSem], [aBrkFlexed, aBrkFlexedSem], [aCtrlExt, aCtrlExtSem], [aBrkExt, aBrkExtSem]]},
  {letter: "b", lp: [353, 10], titles: ["Control (1P)", "BRK (1P)"], titleY: 9.5,
   rowNames: ["Flexed", "Extended"], rowX: 358.5, ylabX: 375.5,
   ylab: "Front Leg Muscle Activity (Normalized \u0394F/F)",
   xl: [395, 524], xr: [549, 677], ty: [20, 123], by: [141, 243],
   t: tMain, xDom: [-2, 4], xTicks: xTicksTime, xLabelTicks: xTicksTime, stim: [0, 2],
   topDom: [-0.53, 4], topTicks: [0,0.5,1,1.5,2,2.5,3,3.5,4], topLabels: [0,1,2,3,4],
   botDom: [-0.48, 4], botTicks: [0,0.5,1,1.5,2,2.5,3,3.5,4], botLabels: [0,1,2,3,4],
   data: [[bCtrlFlexed, bCtrlFlexedSem], [bBrkFlexed, bBrkFlexedSem], [bCtrlExt, bCtrlExtSem], [bBrkExt, bBrkExtSem]]},
  {letter: "c", lp: [6, 286], titles: ["Control (1P)", "BRK (1P)"], titleY: 288.5,
   rowNames: ["Flexion", "Extension"], rowX: 10.5, ylabX: 26.5,
   ylab: "Front Leg Muscle Activity (\u0394F/F)",
   xl: [47, 179], xr: [202, 333], ty: [298, 405], by: [420, 527],
   t: tPassive, xDom: [-0.4, 1.0], xTicks: range(-0.4, 1.0, 0.2), xLabelTicks: xTicksPassive, stim: [-0.4, 1.0],
   topDom: [-0.52, 1.3], topTicks: range(-0.4, 1.2, 0.2), topLabels: [-0.4,0,0.4,0.8,1.2],
   botDom: [-0.52, 1.3], botTicks: range(-0.4, 1.2, 0.2), botLabels: [-0.4,0,0.4,0.8,1.2],
   data: [[cCtrlFlexion, cCtrlFlexionSem], [cBrkFlexion, cBrkFlexionSem], [cCtrlExtension, cCtrlExtensionSem], [cBrkExtension, cBrkExtensionSem]]},
  {letter: "d", lp: [363, 287], titles: ["FG (1P)", "BB (1P)"], titleY: 290,
   rowNames: ["Flexed", "Extended"], rowX: 363.5, ylabX: 378.5,
   ylab: "Front Leg Muscle Activity (\u0394F/F)",
   xl: [397, 526], xr: [556, 685], ty: [299, 403], by: [420, 525],
   t: tFine, xDom: [-2, 4], xTicks: xTicksTime, xLabelTicks: xTicksTime, stim: [0, 1.6],
   topDom: [-0.44, 4.2], topTicks: [0,0.5,1,1.5,2,2.5,3,3.5,4], topLabels: [0,1,2,3,4],
   botDom: [-0.52, 2.1], botTicks: [-0.5,0,0.5,1,1.5,2], botLabels: [0,1,2],
   data: [[dFgFlexed, dFgFlexedSem, tMain], [dBbFlexed, dBbFlexedSem], [dFgExt, dFgExtSem], [dBbExt, dBbExtSem]]},
  {letter: "e", lp: [6, 572.5], titles: ["FG (1P)", "BB (1P)"], titleY: 572.5,
   rowNames: ["Flexed", "Extended"], rowX: 13.5, ylabX: 30.5,
   ylab: "Front Leg Muscle Activity (\u0394F/F)",
   xl: [46, 176], xr: [202, 332], ty: [584, 687], by: [705, 807],
   t: tMain, xDom: [-2, 4], xTicks: xTicksTime, xLabelTicks: xTicksTime, stim: [0, 2],
   topDom: [-0.45, 13], topTicks: [0,2,4,6,8,10,12], topLabels: [0,4,8,12],
   botDom: [-0.5, 8.93], botTicks: [0,1,2,3,4,5,6,7,8], botLabels: [0,2,4,6,8],
   data: [[eFgFlexed, eFgFlexedSem], [eBbFlexed, eBbFlexedSem], [eFgExt, eFgExtSem], [eBbExt, eBbExtSem]]},
  {letter: "f", lp: [363, 570], titles: ["FG (1P)", "BB (1P)"], titleY: 571.5,
   rowNames: ["Flexed", "Extended"], rowX: 361.5, ylabX: 381.5,
   ylab: "Front Leg Muscle Activity (Normalized \u0394F/F)",
   xl: [399, 529], xr: [556, 685], ty: [584, 687], by: [703, 806],
   t: tMain, xDom: [-2, 4], xTicks: xTicksTime, xLabelTicks: xTicksTime, stim: [0, 2],
   topDom: [-0.5, 4], topTicks: [0,0.5,1,1.5,2,2.5,3,3.5,4], topLabels: [0,1,2,3,4],
   botDom: [-0.48, 4.05], botTicks: [0,0.5,1,1.5,2,2.5,3,3.5,4], botLabels: [0,1,2,3,4],
   data: [[fFgFlexed, fFgFlexedSem], [fBbFlexed, fBbFlexedSem], [fFgExt, fFgExtSem], [fBbExt, fBbExtSem]]}
];

panels.forEach(function(P){
  var cells = [
    {xr: P.xl, yr: P.ty, dom: P.topDom, ticks: P.topTicks, labs: P.topLabels, yl: true, xlab: false},
    {xr: P.xr, yr: P.ty, dom: P.topDom, ticks: P.topTicks, labs: P.topLabels, yl: false, xlab: false},
    {xr: P.xl, yr: P.by, dom: P.botDom, ticks: P.botTicks, labs: P.botLabels, yl: true, xlab: true},
    {xr: P.xr, yr: P.by, dom: P.botDom, ticks: P.botTicks, labs: P.botLabels, yl: false, xlab: true}
  ];
  cells.forEach(function(c, i){
    subplot({
      xr: c.xr, yr: c.yr, xDom: P.xDom, yDom: c.dom,
      t: P.data[i][2] || P.t, means: P.data[i][0], sem: P.data[i][1], stim: P.stim,
      yTicks: c.ticks, yLabelTicks: c.labs, yLabels: c.yl,
      xTicks: P.xTicks, xLabelTicks: P.xLabelTicks, xLabels: c.xlab
    });
  });

  // panel letter and column titles
  svg.append("text").attr("x", P.lp[0]).attr("y", P.lp[1])
    .style("font-weight", "bold").style("font-size", "10px").text(P.letter);
  [P.xl, P.xr].forEach(function(xr, k){
    svg.append("text").attr("x", (xr[0] + xr[1]) / 2).attr("y", P.titleY)
      .attr("text-anchor", "middle").text(P.titles[k]);
  });
  // row names and shared y label
  [P.ty, P.by].forEach(function(yr, k){
    svg.append("text").attr("transform", "translate(" + P.rowX + "," + ((yr[0] + yr[1]) / 2) + ") rotate(-90)")
      .attr("text-anchor", "middle").text(P.rowNames[k]);
  });
  svg.append("text").attr("transform", "translate(" + P.ylabX + "," + ((P.ty[0] + P.by[1]) / 2) + ") rotate(-90)")
    .attr("text-anchor", "middle").text(P.ylab);
});

// legend in panel a
var leg = svg.append("g");
seriesNames.forEach(function(name, k){
  var yy = 33.5 + k * 10.5;
  leg.append("line").attr("x1", 102).attr("x2", 118).attr("y1", yy).attr("y2", yy)
    .attr("stroke", k === 3 ? "#777" : seriesColors[k]).attr("stroke-width", 4).attr("stroke-opacity", 0.22);
  leg.append("line").attr("x1", 102).attr("x2", 118).attr("y1", yy).attr("y2", yy)
    .attr("stroke", seriesColors[k]).attr("stroke-width", 1);
  leg.append("text").attr("x", 121).attr("y", yy + 3.2).text(name);
});

// passive movement annotation in panel c
svg.append("defs").append("marker").attr("id", "arrow")
  .attr("viewBox", "0 0 10 10").attr("refX", 9).attr("refY", 5)
  .attr("markerWidth", 5).attr("markerHeight", 5).attr("orient", "auto")
  .append("path").attr("d", "M0,0 L10,5 L0,10 z").attr("fill", "#222");
svg.append("line").attr("x1", 107).attr("y1", 322).attr("x2", 91).attr("y2", 314.5)
  .attr("stroke", "#222").attr("stroke-width", 0.9).attr("marker-end", "url(#arrow)");
svg.append("text").attr("x", 132).attr("y", 328.5).attr("text-anchor", "middle").text("Passive");
svg.append("text").attr("x", 133).attr("y", 340).attr("text-anchor", "middle").text("movement");
</script>
</body>
</html>
